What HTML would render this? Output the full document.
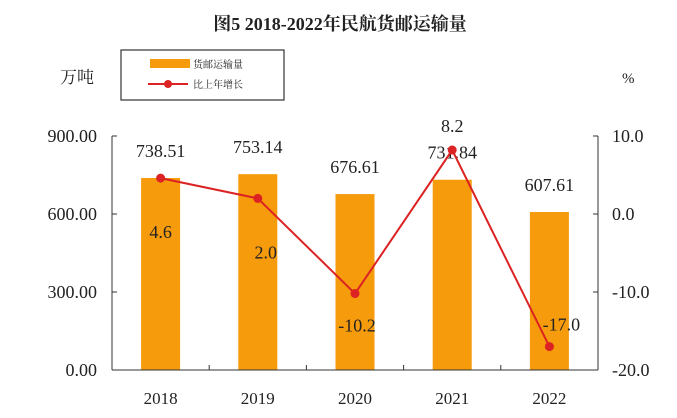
<!DOCTYPE html>
<html><head><meta charset="utf-8"><style>
body{margin:0;background:#fff;width:677px;height:418px;overflow:hidden}
svg{display:block}
text{font-family:"Liberation Serif","Noto Serif CJK SC",serif;fill:#222}
</style></head><body>
<svg id="c" width="677" height="418">
<text x="340" y="30" text-anchor="middle" font-size="18" font-weight="bold">图5  2018-2022年民航货邮运输量</text>
<text x="60" y="83" font-size="17">万吨</text>
<text x="622" y="83" font-size="15">%</text>
<g>
<rect x="121" y="50" width="163" height="50" fill="#fff" stroke="#333" stroke-width="1.2"/>
<rect x="150" y="59" width="40" height="9" fill="#f59b0c"/>
<text x="193" y="68" font-size="10">货邮运输量</text>
<line x1="148" y1="84" x2="188" y2="84" stroke="#dc2222" stroke-width="2"/>
<circle cx="168" cy="84" r="4" fill="#dc2222"/>
<text x="193" y="88" font-size="10">比上年增长</text>
</g>
<g id="plot"></g>
</svg>
<script>
const categories=["2018","2019","2020","2021","2022"];
const volumes=[738.51,753.14,676.61,731.84,607.61];
const growth=[4.6,2.0,-10.2,8.2,-17.0];
const leftTicks=[0,300,600,900];
const rightTicks=[-20,-10,0,10];
const L=112,R=598,T=136,B=370;
const yL=v=>B-(v/900)*(B-T);
const yR=v=>B-((v+20)/30)*(B-T);
const bw=(R-L)/categories.length;
const xC=i=>L+bw*(i+0.5);
const g=document.getElementById('plot');
const NS='http://www.w3.org/2000/svg';
function mk(t,a,p){const e=document.createElementNS(NS,t);for(const k in a)e.setAttribute(k,a[k]);(p||g).appendChild(e);return e;}
categories.forEach((c,i)=>{
 const r=mk('rect',{x:xC(i)-19.5,y:yL(volumes[i]),width:39,height:B-yL(volumes[i]),fill:'#f59b0c'});
 
 
 const t=mk('text',{x:xC(i),y:yL(volumes[i])-21,'text-anchor':'middle','font-size':'18'});t.textContent=volumes[i].toFixed(2);
 
 
 const xl=mk('text',{x:xC(i),y:B+34,'text-anchor':'middle','font-size':'17'});xl.textContent=c;
 
 
});
mk('line',{x1:L,y1:T,x2:L,y2:B,stroke:'#333'});
mk('line',{x1:R,y1:T,x2:R,y2:B,stroke:'#333'});
mk('line',{x1:L,y1:B,x2:R,y2:B,stroke:'#333'});
for(let i=0;i<=categories.length;i++)mk('line',{x1:L+bw*i,y1:B,x2:L+bw*i,y2:B-5,stroke:'#333'});
leftTicks.forEach(v=>{mk('line',{x1:L,y1:yL(v),x2:L+5,y2:yL(v),stroke:'#333'});
 const t=mk('text',{x:97,y:yL(v)+6,'text-anchor':'end','font-size':'18'});t.textContent=v.toFixed(2);
 
 });
rightTicks.forEach(v=>{mk('line',{x1:R,y1:yR(v),x2:R-5,y2:yR(v),stroke:'#333'});
 const t=mk('text',{x:612,y:yR(v)+6,'font-size':'18'});t.textContent=v.toFixed(1);
 
 });
const pl=mk('polyline',{points:growth.map((v,i)=>xC(i)+','+yR(v)).join(' '),fill:'none',stroke:'#dc2222','stroke-width':2});


const off=[[0,60],[8,60],[2,38],[0,-18],[12,-16]];
growth.forEach((v,i)=>{const c=mk('circle',{cx:xC(i),cy:yR(v),r:4.5,fill:'#dc2222'});
 
 
 const t=mk('text',{x:xC(i)+off[i][0],y:yR(v)+off[i][1],'text-anchor':'middle','font-size':'18'});t.textContent=v.toFixed(1);
 
 });
</script>
</body></html>
